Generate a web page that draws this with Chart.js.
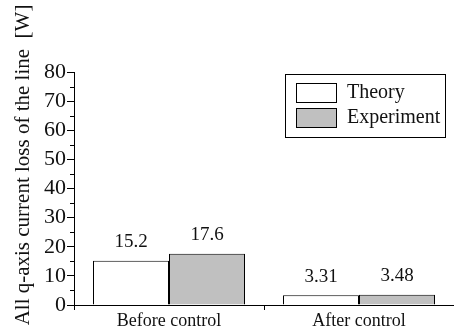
<!DOCTYPE html>
<html>
<head>
<meta charset="utf-8">
<script src="https://cdn.jsdelivr.net/npm/chart.js@4/dist/chart.umd.min.js"></script>
<style>
  html, body { margin: 0; padding: 0; background: #fff; }
  #wrap { width: 454px; height: 332px; }
</style>
</head>
<body>
<div id="wrap"><canvas id="lossChart" width="454" height="332"></canvas></div>
<script>
// values
const categories = ['Before control', 'After control'];
const theory = [15.2, 3.31];
const experiment = [17.6, 3.48];
const theoryLabels = ['15.2', '3.31'];
const experimentLabels = ['17.6', '3.48'];
const yTicks = [0, 10, 20, 30, 40, 50, 60, 70, 80];
const minorTicks = [5, 15, 25, 35, 45, 55, 65, 75];
const yTitle = 'All q-axis current loss of the line  [W]';

const serif = '"Liberation Serif", "DejaVu Serif", serif';

// values printed above each bar
const valueLabels = {
    id: 'valueLabels',
    afterDatasetsDraw(chart) {
        const ctx = chart.ctx;
        const texts = [theoryLabels, experimentLabels];
        ctx.save();
        ctx.font = '19px ' + serif;
        ctx.fillStyle = '#111';
        ctx.textAlign = 'center';
        ctx.textBaseline = 'bottom';
        chart.data.datasets.forEach((ds, i) => {
            chart.getDatasetMeta(i).data.forEach((bar, j) => {
                ctx.fillText(texts[i][j], bar.x, bar.y - 9);
            });
        });
        ctx.restore();
    }
};

// short ticks between the labelled ones + the rotated axis title
const axisExtras = {
    id: 'axisExtras',
    afterDraw(chart) {
        const y = chart.scales.y;
        const ctx = chart.ctx;
        ctx.save();
        ctx.strokeStyle = '#000';
        ctx.lineWidth = 1;
        ctx.beginPath();
        minorTicks.forEach(v => {
            const py = Math.round(y.getPixelForValue(v)) + 0.5;
            ctx.moveTo(y.right - 4, py);
            ctx.lineTo(y.right, py);
        });
        ctx.stroke();

        ctx.translate(23, 165);
        ctx.rotate(-Math.PI / 2);
        ctx.font = '21px ' + serif;
        ctx.fillStyle = '#111';
        ctx.textAlign = 'center';
        ctx.textBaseline = 'middle';
        ctx.fillText(yTitle, 0, 0);
        ctx.restore();
    }
};

// boxed legend inside the plot
const boxLegend = {
    id: 'boxLegend',
    afterDraw(chart) {
        const ctx = chart.ctx;
        const x0 = 285, y0 = 74, w = 160, h = 63;
        ctx.save();
        ctx.fillStyle = '#fff';
        ctx.fillRect(x0, y0, w, h);
        ctx.strokeStyle = '#000';
        ctx.lineWidth = 1;
        ctx.strokeRect(x0 + 0.5, y0 + 0.5, w, h);
        ctx.font = '20px ' + serif;
        ctx.textBaseline = 'middle';
        chart.data.datasets.forEach((ds, i) => {
            const sy = y0 + 9 + i * 25;
            ctx.fillStyle = ds.backgroundColor;
            ctx.fillRect(x0 + 11, sy, 40, 19);
            ctx.strokeRect(x0 + 11.5, sy + 0.5, 40, 19);
            ctx.fillStyle = '#111';
            ctx.fillText(ds.label, x0 + 62, sy + 10);
        });
        ctx.restore();
    }
};

new Chart(document.getElementById('lossChart'), {
    type: 'bar',
    data: {
        labels: categories,
        datasets: [
            { label: 'Theory', data: theory, backgroundColor: '#ffffff', borderColor: '#000', borderWidth: 1 },
            { label: 'Experiment', data: experiment, backgroundColor: '#c0c0c0', borderColor: '#000', borderWidth: 1 }
        ]
    },
    options: {
        responsive: false,
        animation: false,
        layout: { padding: { top: 72, right: 0, left: 0, bottom: 0 } },
        datasets: { bar: { categoryPercentage: 0.8, barPercentage: 1 } },
        plugins: { legend: { display: false }, tooltip: { enabled: false } },
        scales: {
            x: {
                offset: true,
                grid: { offset: true, drawOnChartArea: false, tickLength: 5, color: '#000' },
                border: { display: true, color: '#000' },
                ticks: { color: '#111', font: { family: serif, size: 18 }, padding: 0, autoSkip: false, maxRotation: 0 },
                afterFit(scale) { scale.height = 27; }
            },
            y: {
                min: 0,
                max: 80,
                afterBuildTicks(scale) { scale.ticks = yTicks.map(v => ({ value: v })); },
                grid: { drawOnChartArea: false, tickLength: 7, color: '#000' },
                border: { display: true, color: '#000' },
                ticks: { color: '#111', font: { family: serif, size: 22 }, padding: 1, autoSkip: false },
                afterFit(scale) { scale.width = 74; }
            }
        }
    },
    plugins: [valueLabels, axisExtras, boxLegend]
});
</script>
</body>
</html>
